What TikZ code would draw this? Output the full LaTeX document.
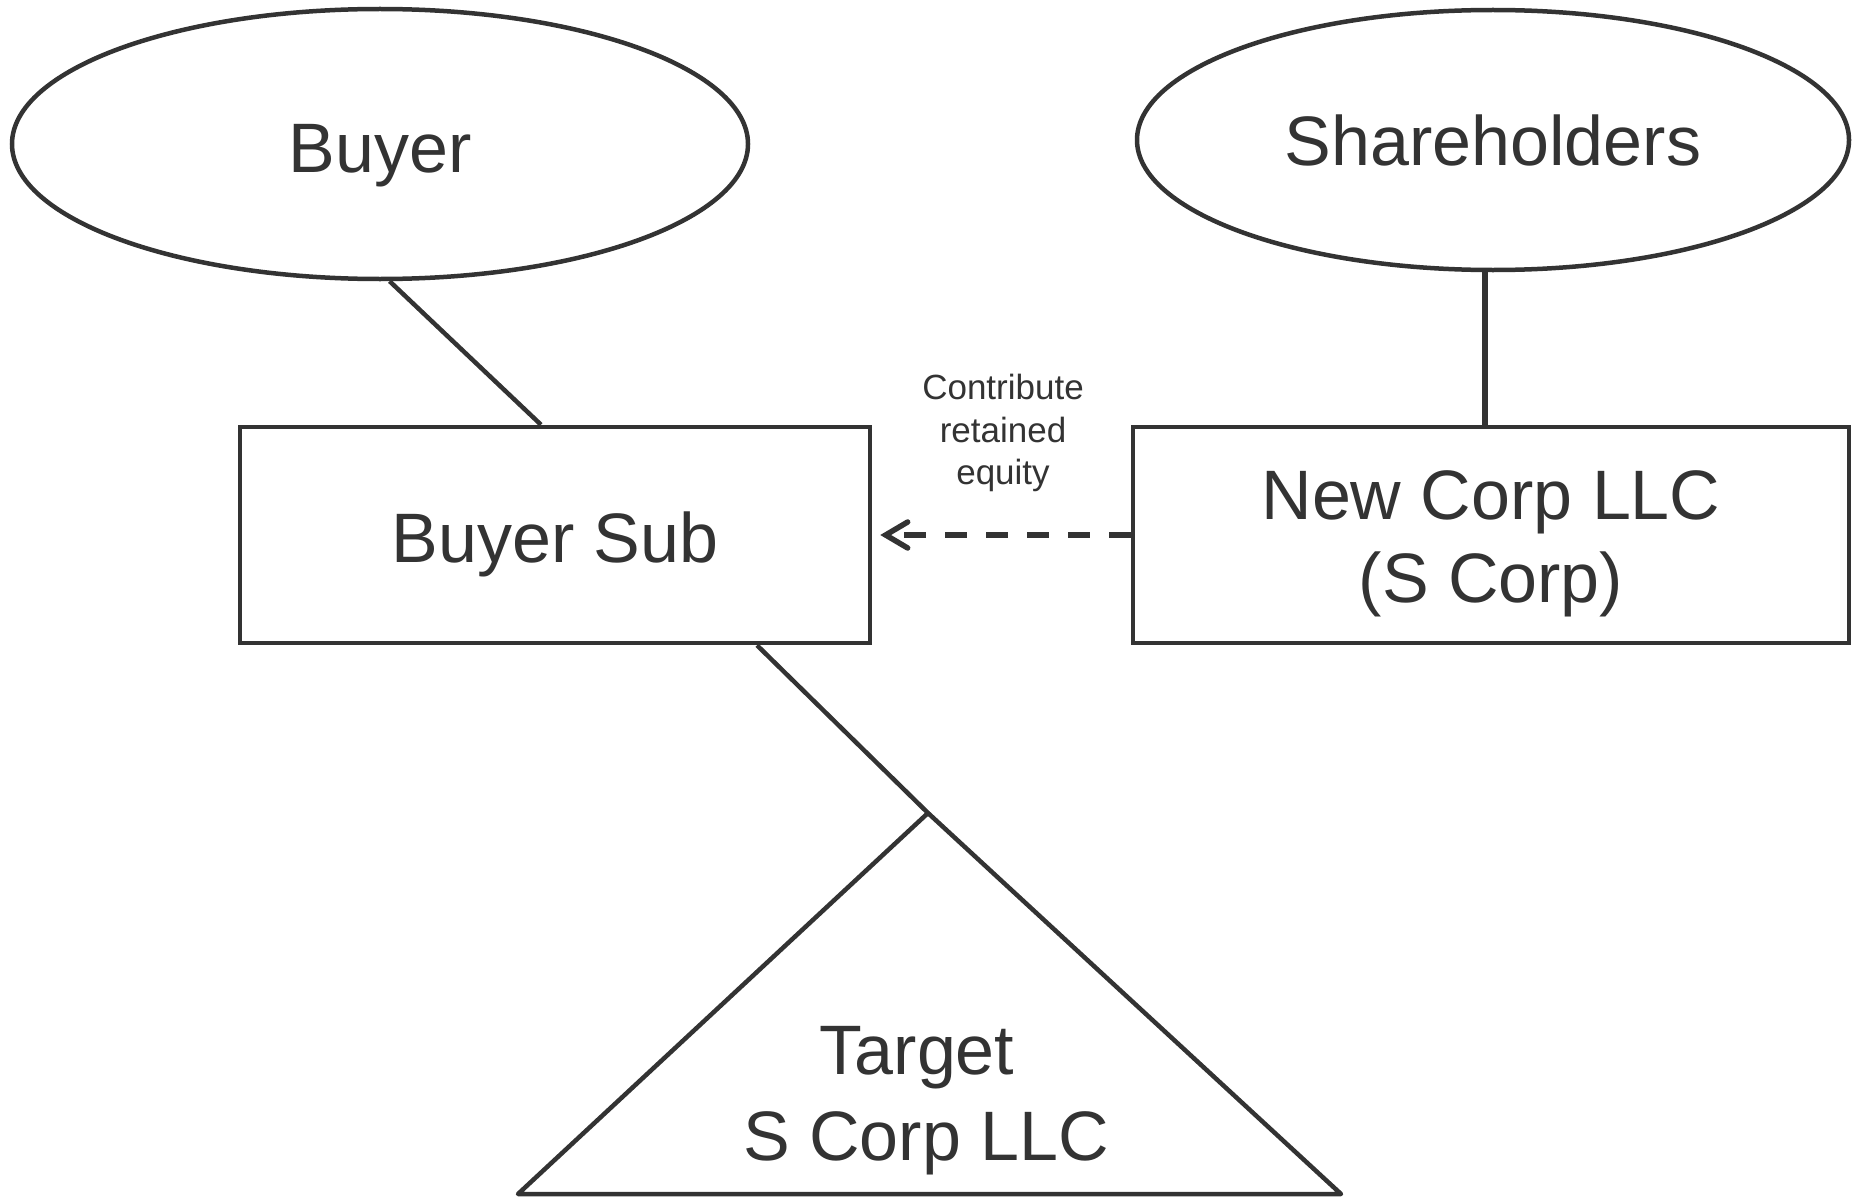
\documentclass[tikz,border=0pt]{standalone}
\usepackage{fontspec}
\setmainfont{Liberation Sans}
\usetikzlibrary{arrows.meta,shapes.geometric}
\definecolor{ink}{RGB}{51,51,51}
\tikzset{
  every node/.style={text=ink},
  party/.style={ellipse, draw=ink, line width=4.5pt, inner sep=0pt,
    font=\fontsize{70}{83}\selectfont},
  entity/.style={rectangle, draw=ink, line width=4.5pt, inner sep=0pt,
    align=center, font=\fontsize{70}{83}\selectfont},
  link/.style={draw=ink, line width=4.5pt},
  heavylink/.style={draw=ink, line width=6pt},
  flow/.style={draw=ink, line width=5.5pt, dash pattern=on 22pt off 19pt,
    -{Straight Barb[length=22pt,width=26pt,line width=5.5pt,line cap=round]}},
  note/.style={align=center, font=\fontsize{35}{42.5}\selectfont}
}
\begin{document}
\begin{tikzpicture}[x=1pt,y=-1pt]
  \useasboundingbox[fill=white] (0,0) rectangle (1854,1196);

  % owners
  \node[party, minimum width=736pt, minimum height=270pt] (buyer) at (380,144) {};
  \node (buyerlbl) at ([yshift=-12pt]buyer.center) {\fontsize{70}{83}\selectfont Buyer};
  \node[party, minimum width=712pt, minimum height=260pt] (holders) at (1493,140) {Shareholders};

  % entities
  \node[entity, minimum width=630pt, minimum height=216pt] (buyersub) at (555,535) {};
  \node (buyersublbl) at ([yshift=-9pt]buyersub.center) {\fontsize{70}{83}\selectfont Buyer Sub};
  \node[entity, minimum width=716pt, minimum height=216pt] (newcorp) at (1491,535) {};
  \node[align=center, font=\fontsize{70}{83}\selectfont] (newcorplbl)
    at ([yshift=-9pt]newcorp.center) {New Corp LLC\\(S Corp)};

  % target drawn as a triangle
  \coordinate (apex) at (928,813);
  \coordinate (baseL) at (518,1194);
  \coordinate (baseR) at (1341,1194);
  \draw[link, line join=round] (apex) -- (baseR) -- (baseL) -- cycle;
  \node[align=center, font=\fontsize{70}{86}\selectfont] (target) at (926,1101) {Target\kern18pt\\S Corp LLC};

  % ownership lines
  \draw[link] (buyer.274) -- ([xshift=-14pt]buyersub.north);
  \draw[heavylink] ([xshift=-8pt]holders.south) -- ([xshift=-8pt]holders.south |- newcorp.north);
  \draw[link] ([xshift=202pt]buyersub.south) -- (apex);

  % contribution
  \draw[flow] (newcorp.west) -- ([xshift=8pt]buyersub.east);
  \node[note] (contrib) at (1003,433) {Contribute\\retained\\equity};
\end{tikzpicture}
\end{document}
